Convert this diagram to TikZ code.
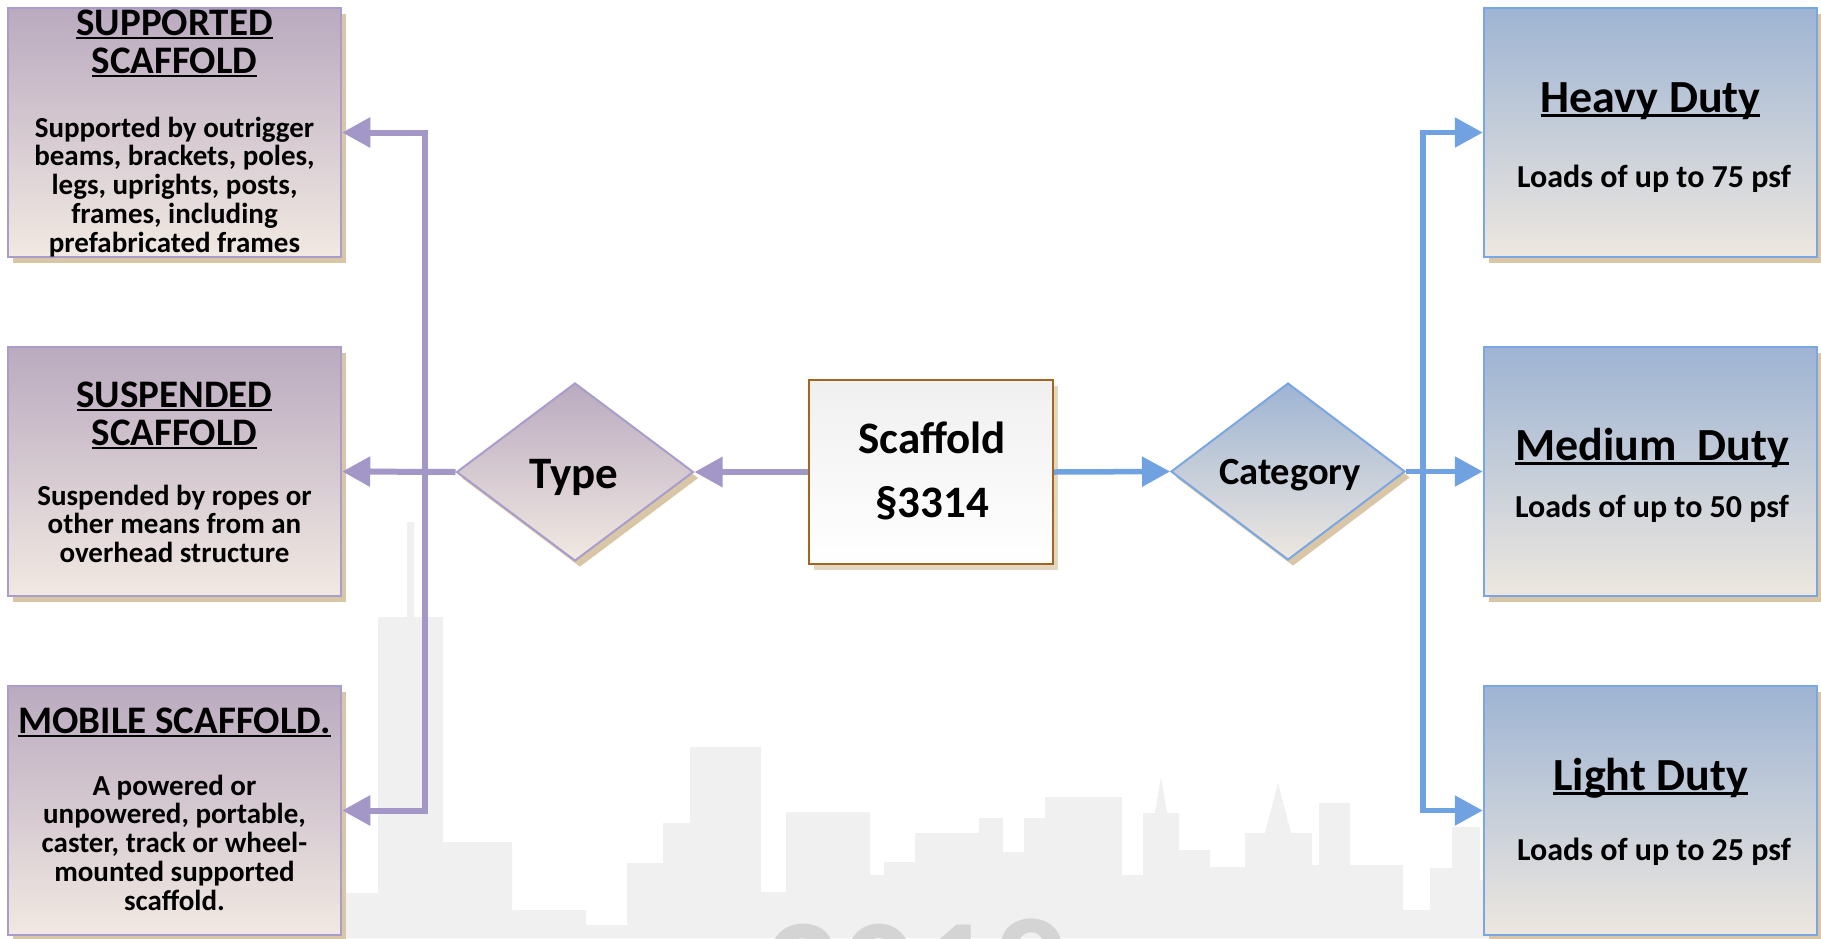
\documentclass[tikz,border=0pt]{standalone}
\usepackage{fontspec}
\setmainfont{Carlito}
\usetikzlibrary{arrows.meta,shapes.geometric,shadows}

\definecolor{lavarrow}{RGB}{163,151,200}
\definecolor{lavline}{RGB}{168,157,203}
\definecolor{mauve}{RGB}{186,170,191}
\definecolor{creamp}{RGB}{241,233,226}
\definecolor{skyb}{RGB}{158,180,211}
\definecolor{creamb}{RGB}{237,231,223}
\definecolor{blueline}{RGB}{122,167,226}
\definecolor{bluearrow}{RGB}{112,162,225}
\definecolor{shadowtan}{RGB}{217,198,166}
\definecolor{framebrown}{RGB}{163,102,34}
\definecolor{city}{RGB}{240,240,240}
\definecolor{wmark}{RGB}{212,212,212}

% underline that cuts through the descenders
\newcommand\ulx[1]{\leavevmode\setbox0\hbox{#1}\rlap{\rule[-0.11em]{\wd0}{0.06em}}\box0}
% centred stack of lines, baseline on the first line
\newcommand\stk[1]{\begin{tabular}[t]{@{}c@{}}#1\end{tabular}}

\tikzset{
  shade tan/.style={drop shadow={shadow xshift=5pt,shadow yshift=-6pt,fill=shadowtan,opacity=1}},
  pbox/.style={draw=lavline,line width=2.5pt,top color=mauve,bottom color=creamp,
    minimum width=333pt,minimum height=249pt,inner sep=0pt,shade tan},
  bbox/.style={draw=blueline,line width=2.5pt,top color=skyb,bottom color=creamb,
    minimum width=333pt,minimum height=249pt,inner sep=0pt,shade tan},
  pdiam/.style={shape=diamond,draw=lavline,line width=2pt,top color=mauve,bottom color=creamp,
    minimum width=237pt,minimum height=178pt,inner sep=0pt,shade tan},
  bdiam/.style={shape=diamond,draw=blueline,line width=2pt,top color=skyb,bottom color=creamb,
    minimum width=234pt,minimum height=177pt,inner sep=0pt,shade tan},
  sbox/.style={draw=framebrown,line width=2pt,top color=gray!12,bottom color=white,
    minimum width=244pt,minimum height=184pt,inner sep=0pt,
    drop shadow={shadow xshift=5pt,shadow yshift=-6pt,fill=shadowtan!70,opacity=1}},
  txt/.style={anchor=base,inner sep=0pt,text=black},
  lhead/.style={txt,font=\fontsize{39}{38}\selectfont\bfseries},
  lbody/.style={txt,font=\fontsize{29}{28.7}\selectfont\bfseries},
  rhead/.style={txt,font=\fontsize{46}{46}\selectfont\bfseries},
  rbody/.style={txt,font=\fontsize{32}{32}\selectfont\bfseries},
  parr/.style={draw=lavarrow,line width=6pt,-{Triangle[length=28pt,width=29pt]}},
  barr/.style={draw=bluearrow,line width=5.5pt,-{Triangle[length=28pt,width=29pt]}},
}

\begin{document}
\begin{tikzpicture}[x=1pt,y=-1pt]
\useasboundingbox (0,0) rectangle (1821,938);
\clip (0,0) rectangle (1821,938);
\fill[white] (0,0) rectangle (1821,938);

% faint city skyline along the bottom
\fill[city] (330,938) -- (330,893) -- (378,893) -- (378,617) -- (407,617) -- (407,522)
  -- (414,522) -- (414,617) -- (443,617) -- (443,842) -- (512,842) -- (512,910)
  -- (586,910) -- (586,925) -- (627,925) -- (627,863) -- (663,863) -- (663,823)
  -- (690,823) -- (690,747) -- (761,747) -- (761,892) -- (786,892) -- (786,812)
  -- (870,812) -- (870,875) -- (884,875) -- (884,862) -- (915,862) -- (915,833)
  -- (979,833) -- (979,818) -- (1003,818) -- (1003,852) -- (1024,852) -- (1024,818)
  -- (1045,818) -- (1045,797) -- (1122,797) -- (1122,875) -- (1143,875) -- (1143,813)
  -- (1155,813) -- (1161,777) -- (1167,813) -- (1179,813) -- (1179,850) -- (1210,850)
  -- (1210,867) -- (1245,867) -- (1245,833) -- (1265,833) -- (1278,783) -- (1291,833)
  -- (1312,833) -- (1312,865) -- (1319,865) -- (1319,803) -- (1350,803) -- (1350,865)
  -- (1403,865) -- (1403,910) -- (1430,910) -- (1430,868) -- (1452,868) -- (1452,827)
  -- (1480,827) -- (1480,880) -- (1557,880) -- (1557,810) -- (1620,810) -- (1620,860)
  -- (1707,860) -- (1707,780) -- (1787,780) -- (1787,870) -- (1821,870) -- (1821,938) -- cycle;
\node[font=\fontsize{150}{150}\selectfont\bfseries,text=wmark,anchor=base,inner sep=0pt] (year) at (917,1022) {2018};

% scaffold types (left)
\node[pbox] (supp) at (174.5,132.5) {};
\node[pbox] (susp) at (174.5,471.5) {};
\node[pbox] (mob)  at (174.5,810.5) {};
% load categories (right)
\node[bbox] (heavy) at (1650.5,132.5) {};
\node[bbox] (med)   at (1650.5,471.5) {};
\node[bbox] (light) at (1650.5,810.5) {};
% centre
\node[sbox]  (scaf) at (931,472) {};
\node[pdiam] (type) at (575,472) {};
\node[bdiam] (cat)  at (1288,471.5) {};

% texts
\node[lhead] (supph) at (174.5,35) {\stk{\ulx{SUPPORTED}\\\ulx{SCAFFOLD}}};
\node[lbody] (suppb) at (174.5,137) {\stk{Supported by outrigger\\beams, brackets, poles,\\legs, uprights, posts,\\frames, including\\prefabricated frames}};
\node[lhead] (susph) at (174.5,407) {\stk{\ulx{SUSPENDED}\\\ulx{SCAFFOLD}}};
\node[lbody] (suspb) at (174.5,505) {\stk{Suspended by ropes or\\other means from an\\overhead structure}};
\node[lhead] (mobh) at (174.5,733) {\ulx{MOBILE SCAFFOLD.}};
\node[lbody] (mobb) at (174.5,795) {\stk{A powered or\\unpowered, portable,\\caster, track or wheel-\\mounted supported\\scaffold.}};

\node[rhead] (heavyh) at (1650.5,112) {\ulx{Heavy Duty}};
\node[rbody] (heavyb) at (1654,187) {Loads of up to 75 psf};
\node[rhead] (medh) at (1652,460) {\ulx{Medium\ \ Duty}};
\node[rbody] (medb) at (1652,517) {Loads of up to 50 psf};
\node[rhead] (lighth) at (1650.5,790) {\ulx{Light Duty}};
\node[rbody] (lightb) at (1654,860) {Loads of up to 25 psf};

\node[txt,font=\fontsize{45}{64}\selectfont\bfseries] (scaft) at (932,453) {\stk{Scaffold\\§3314}};
\node[txt,font=\fontsize{45}{45}\selectfont\bfseries] (typet) at (574,488) {Type};
\node[txt,font=\fontsize{38.5}{38.5}\selectfont\bfseries] (catt) at (1290,484) {Category};

% connectors
\coordinate (phub) at (425,471.5);
\coordinate (bhub) at (1423,471.5);
\draw[parr] (scaf.west) -- (type.east);
\draw[parr] (type.west) -- (susp.east);
\draw[parr] (phub) |- (supp.east);
\draw[parr] (phub) |- (mob.east);
\draw[barr] (scaf.east) -- (cat.west);
\draw[barr] (cat.east) -- (med.west);
\draw[barr] (bhub) |- (heavy.west);
\draw[barr] (bhub) |- (light.west);
\end{tikzpicture}
\end{document}
